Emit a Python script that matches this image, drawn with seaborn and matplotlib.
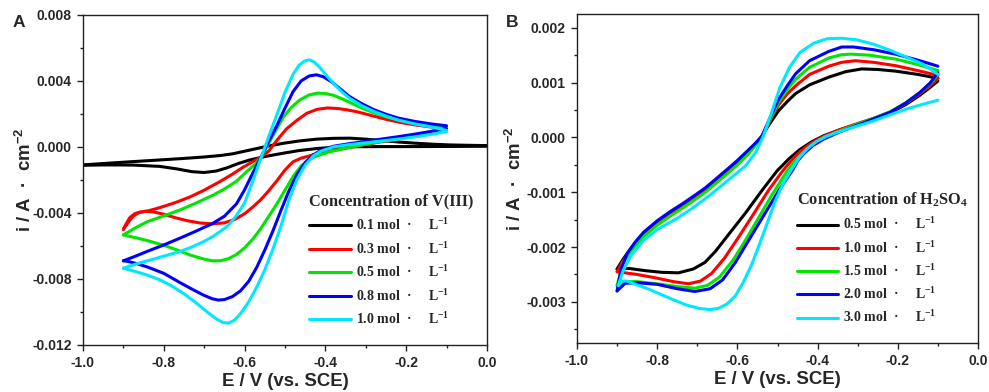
import matplotlib
matplotlib.use("Agg")
import numpy as np
import pandas as pd
import matplotlib.pyplot as plt
import seaborn as sns
from matplotlib.lines import Line2D
from matplotlib.ticker import MultipleLocator, FormatStrFormatter
from matplotlib.font_manager import FontProperties

# ---------------- Panel A: concentration of V(III) ----------------
a_labels = ["0.1 mol  ·     L$^{-1}$", "0.3 mol  ·     L$^{-1}$", "0.5 mol  ·     L$^{-1}$",
            "0.8 mol  ·     L$^{-1}$", "1.0 mol  ·     L$^{-1}$"]
colors = ["#000000", "#ff0000", "#00e600", "#0000ff", "#00e8ff"]

# 0.1 mol/L
a1_up_E = [-1.0, -0.94, -0.876, -0.81, -0.752, -0.70, -0.66, -0.63, -0.60, -0.57, -0.54, -0.504, -0.465,
           -0.422, -0.38, -0.339, -0.30, -0.257, -0.215, -0.174, -0.13, -0.092, -0.05, 0.0]
a1_up_i = [-0.00109, -0.00099, -0.00089, -0.00079, -0.0007, -0.00061, -0.00052, -0.00042, -0.00026, -0.0001,
           0.00006, 0.00022, 0.00036, 0.00047, 0.00052, 0.00053, 0.00047, 0.00038, 0.00029, 0.00022, 0.00016,
           0.00012, 0.0001, 0.00008]
a1_dn_E = [0.0, -0.09, -0.174, -0.26, -0.339, -0.385, -0.422, -0.465, -0.504, -0.545, -0.587, -0.615, -0.644,
           -0.67, -0.70, -0.73, -0.768, -0.81, -0.876, -0.94, -1.0]
a1_dn_i = [0.00004, 0.00003, 0.00002, 0.00002, 0.00001, -0.00003, -0.0001, -0.00022, -0.00038, -0.00056,
           -0.00079, -0.001, -0.00127, -0.00146, -0.00155, -0.0015, -0.00133, -0.00118, -0.0011, -0.00109, -0.00111]
# 0.3 mol/L
a2_up_E = [-0.9, -0.893, -0.884, -0.872, -0.859, -0.84, -0.82, -0.801, -0.77, -0.735, -0.70, -0.661, -0.63,
           -0.603, -0.58, -0.558, -0.54, -0.52, -0.496, -0.47, -0.446, -0.42, -0.395, -0.37, -0.345, -0.32,
           -0.29, -0.25, -0.21, -0.174, -0.14, -0.104]
a2_up_i = [-0.005, -0.00465, -0.00428, -0.00405, -0.00395, -0.00388, -0.00375, -0.00361, -0.00336, -0.00303,
           -0.00262, -0.0021, -0.00165, -0.00122, -0.0009, -0.0006, -0.00025, 0.0004, 0.0011, 0.00162, 0.00204,
           0.00228, 0.00236, 0.00233, 0.00224, 0.00212, 0.00193, 0.00167, 0.00146, 0.00132, 0.00121, 0.00113]
a2_dn_E = [-0.104, -0.14, -0.18, -0.22, -0.265, -0.31, -0.35, -0.39, -0.43, -0.46, -0.48, -0.50, -0.52, -0.54,
           -0.56, -0.58, -0.60, -0.625, -0.65, -0.68, -0.71, -0.74, -0.77, -0.80, -0.825, -0.845, -0.862, -0.876,
           -0.888, -0.9]
a2_dn_i = [0.0011, 0.0009, 0.00068, 0.00048, 0.0003, 0.0001, -0.00008, -0.00025, -0.00048, -0.00068, -0.0009,
           -0.0014, -0.00205, -0.00265, -0.0032, -0.00365, -0.00405, -0.0044, -0.0046, -0.00466, -0.00461,
           -0.00448, -0.0043, -0.00408, -0.00394, -0.0039, -0.00398, -0.0042, -0.00458, -0.005]
# 0.5 mol/L
a3_up_E = [-0.9, -0.87, -0.84, -0.80, -0.76, -0.72, -0.677, -0.65, -0.62, -0.595, -0.575, -0.558, -0.545,
           -0.525, -0.504, -0.485, -0.463, -0.44, -0.42, -0.40, -0.38, -0.36, -0.34, -0.31, -0.28, -0.25,
           -0.22, -0.18, -0.14, -0.104]
a3_up_i = [-0.00533, -0.0049, -0.00452, -0.00418, -0.00382, -0.0034, -0.00291, -0.00255, -0.00208, -0.0015,
           -0.00108, -0.0006, 0.0, 0.0009, 0.0018, 0.00238, 0.00285, 0.00315, 0.00326, 0.00324, 0.00313,
           0.00293, 0.0027, 0.00236, 0.00207, 0.00183, 0.00163, 0.00146, 0.00131, 0.00119]
a3_dn_E = [-0.104, -0.14, -0.18, -0.22, -0.265, -0.31, -0.35, -0.39, -0.43, -0.46, -0.48, -0.50, -0.52, -0.54,
           -0.56, -0.58, -0.60, -0.62, -0.64, -0.66, -0.68, -0.70, -0.735, -0.77, -0.80, -0.84, -0.87, -0.9]
a3_dn_i = [0.00115, 0.00093, 0.00073, 0.00053, 0.00032, 0.00012, -0.00008, -0.0003, -0.00062, -0.00115, -0.0018,
           -0.00262, -0.00345, -0.0042, -0.00495, -0.0056, -0.00612, -0.00652, -0.00677, -0.0069, -0.0069, -0.0068,
           -0.00655, -0.00622, -0.00596, -0.00568, -0.0055, -0.00533]
# 0.8 mol/L
a4_up_E = [-0.9, -0.87, -0.84, -0.80, -0.76, -0.72, -0.68, -0.65, -0.62, -0.60, -0.58, -0.56, -0.54, -0.52,
           -0.50, -0.48, -0.46, -0.44, -0.422, -0.405, -0.385, -0.36, -0.34, -0.31, -0.28, -0.25, -0.22,
           -0.18, -0.14, -0.10]
a4_up_i = [-0.0069, -0.00662, -0.00632, -0.00594, -0.00553, -0.0051, -0.00465, -0.0042, -0.00345, -0.0026,
           -0.0016, -0.00065, 0.00035, 0.0013, 0.00235, 0.00335, 0.004, 0.0043, 0.00437, 0.00425, 0.00395,
           0.00345, 0.00305, 0.00262, 0.00226, 0.00198, 0.00175, 0.00155, 0.0014, 0.00128]
a4_dn_E = [-0.10, -0.14, -0.18, -0.22, -0.26, -0.30, -0.34, -0.38, -0.41, -0.43, -0.45, -0.47, -0.49, -0.51,
           -0.53, -0.55, -0.57, -0.59, -0.61, -0.63, -0.65, -0.665, -0.68, -0.70, -0.73, -0.76, -0.80, -0.84,
           -0.87, -0.89, -0.9]
a4_dn_i = [0.00112, 0.00093, 0.00077, 0.00062, 0.00048, 0.00034, 0.0002, 0.00004, -0.0002, -0.00048, -0.00095,
           -0.00165, -0.00265, -0.00385, -0.0051, -0.00625, -0.0073, -0.00815, -0.00872, -0.00907, -0.00925,
           -0.00928, -0.0092, -0.009, -0.00862, -0.00822, -0.00766, -0.00728, -0.00705, -0.00693, -0.0069]
# 1.0 mol/L
a5_up_E = [-0.9, -0.885, -0.86, -0.83, -0.80, -0.76, -0.73, -0.70, -0.68, -0.66, -0.64, -0.62, -0.60, -0.58,
           -0.56, -0.54, -0.52, -0.50, -0.48, -0.465, -0.452, -0.44, -0.428, -0.415, -0.40, -0.38, -0.36,
           -0.34, -0.31, -0.28, -0.25, -0.22, -0.18, -0.14, -0.10]
a5_up_i = [-0.00735, -0.00722, -0.00703, -0.00683, -0.00662, -0.00634, -0.00606, -0.00572, -0.00545, -0.00512,
           -0.00475, -0.00415, -0.0034, -0.0021, -0.0007, 0.00065, 0.00195, 0.0033, 0.0044, 0.00495, 0.0052,
           0.00528, 0.00515, 0.00485, 0.0044, 0.00385, 0.00335, 0.00295, 0.0025, 0.00215, 0.00187, 0.00163,
           0.0014, 0.00122, 0.001]
a5_dn_E = [-0.10, -0.14, -0.18, -0.22, -0.26, -0.30, -0.34, -0.38, -0.41, -0.43, -0.45, -0.47, -0.49, -0.51,
           -0.53, -0.55, -0.57, -0.59, -0.61, -0.625, -0.64, -0.655, -0.67, -0.69, -0.72, -0.75, -0.78, -0.81,
           -0.84, -0.87, -0.89, -0.9]
a5_dn_i = [0.00093, 0.00075, 0.0006, 0.00047, 0.00036, 0.00025, 0.00014, 0.0, -0.00025, -0.00055, -0.0011,
           -0.00195, -0.0032, -0.0048, -0.0062, -0.00745, -0.0085, -0.0094, -0.0101, -0.0105, -0.01068, -0.01062,
           -0.01042, -0.01005, -0.00945, -0.0089, -0.00843, -0.00805, -0.00777, -0.00755, -0.00742, -0.00735]

# ---------------- Panel B: concentration of H2SO4 ----------------
b_labels = ["0.5 mol  ·     L$^{-1}$", "1.0 mol  ·     L$^{-1}$", "1.5 mol  ·     L$^{-1}$",
            "2.0 mol  ·     L$^{-1}$", "3.0 mol  ·     L$^{-1}$"]

b1_up_E = [-0.9, -0.885, -0.865, -0.834, -0.80, -0.767, -0.735, -0.709, -0.68, -0.659, -0.63, -0.60, -0.57,
           -0.54, -0.515, -0.497, -0.475, -0.455, -0.42, -0.372, -0.33, -0.29, -0.25, -0.206, -0.15, -0.10]
b1_up_i = [-0.0024, -0.00222, -0.00202, -0.00176, -0.00155, -0.00138, -0.00123, -0.0011, -0.00095, -0.00082,
           -0.00064, -0.00045, -0.00024, 0.00002, 0.0003, 0.00049, 0.00066, 0.0008, 0.00096, 0.0011, 0.0012,
           0.00125, 0.00124, 0.00121, 0.00115, 0.00108]
b1_dn_E = [-0.10, -0.12, -0.145, -0.18, -0.219, -0.26, -0.302, -0.345, -0.385, -0.415, -0.444, -0.47, -0.50,
           -0.539, -0.58, -0.623, -0.655, -0.681, -0.71, -0.747, -0.79, -0.83, -0.87, -0.9]
b1_dn_i = [0.00103, 0.00091, 0.00077, 0.0006, 0.00045, 0.00034, 0.00024, 0.00014, 0.00003, -0.00008, -0.00022,
           -0.00038, -0.0006, -0.00097, -0.00138, -0.00178, -0.00208, -0.00228, -0.0024, -0.00247, -0.00246,
           -0.00243, -0.00239, -0.0024]

b2_up_E = [-0.9, -0.885, -0.865, -0.834, -0.80, -0.767, -0.735, -0.709, -0.68, -0.659, -0.63, -0.60, -0.57,
           -0.54, -0.515, -0.497, -0.475, -0.455, -0.42, -0.372, -0.34, -0.306, -0.26, -0.206, -0.15, -0.10]
b2_up_i = [-0.00245, -0.00225, -0.00205, -0.00179, -0.00158, -0.00141, -0.00126, -0.00113, -0.00098, -0.00085,
           -0.00067, -0.00048, -0.00026, 0.0, 0.00035, 0.0006, 0.0008, 0.00094, 0.00115, 0.0013, 0.00137,
           0.0014, 0.00137, 0.00131, 0.00122, 0.00113]
b2_dn_E = [-0.10, -0.12, -0.145, -0.18, -0.219, -0.26, -0.302, -0.345, -0.385, -0.415, -0.444, -0.465, -0.486,
           -0.523, -0.56, -0.598, -0.632, -0.664, -0.692, -0.722, -0.76, -0.805, -0.85, -0.88, -0.9]
b2_dn_i = [0.00108, 0.00094, 0.0008, 0.00062, 0.00046, 0.00035, 0.00025, 0.00014, 0.00002, -0.0001, -0.00026,
           -0.00042, -0.0006, -0.00097, -0.0014, -0.00183, -0.0022, -0.00248, -0.00262, -0.00267, -0.00263,
           -0.00256, -0.0025, -0.00247, -0.00245]

b3_up_E = [-0.9, -0.885, -0.865, -0.834, -0.80, -0.767, -0.735, -0.709, -0.68, -0.659, -0.63, -0.60, -0.57,
           -0.54, -0.515, -0.497, -0.475, -0.455, -0.42, -0.372, -0.34, -0.316, -0.27, -0.206, -0.15, -0.10]
b3_up_i = [-0.0027, -0.00228, -0.00207, -0.00181, -0.0016, -0.00143, -0.00128, -0.00115, -0.001, -0.00087,
           -0.00069, -0.0005, -0.00028, 0.0, 0.00038, 0.00065, 0.00088, 0.00106, 0.00128, 0.00145, 0.00151,
           0.00152, 0.0015, 0.00143, 0.00133, 0.00122]
b3_dn_E = [-0.10, -0.12, -0.145, -0.18, -0.219, -0.26, -0.302, -0.345, -0.385, -0.413, -0.44, -0.458, -0.473,
           -0.514, -0.55, -0.581, -0.612, -0.645, -0.675, -0.706, -0.75, -0.80, -0.85, -0.88, -0.9]
b3_dn_i = [0.00115, 0.00098, 0.00082, 0.00063, 0.00047, 0.00035, 0.00024, 0.00012, 0.0, -0.00013, -0.0003,
           -0.00044, -0.00058, -0.00105, -0.0015, -0.00189, -0.00225, -0.00255, -0.0027, -0.00275, -0.00272,
           -0.00267, -0.00263, -0.00263, -0.0027]

b4_up_E = [-0.9, -0.89, -0.875, -0.855, -0.834, -0.80, -0.767, -0.735, -0.709, -0.68, -0.659, -0.63, -0.60,
           -0.57, -0.54, -0.515, -0.497, -0.475, -0.455, -0.42, -0.372, -0.34, -0.31, -0.26, -0.206, -0.15, -0.10]
b4_up_i = [-0.0028, -0.0024, -0.00212, -0.00191, -0.00173, -0.00152, -0.00135, -0.0012, -0.00107, -0.00092,
           -0.00079, -0.00061, -0.00042, -0.00021, 0.0, 0.00042, 0.0007, 0.00095, 0.00116, 0.0014, 0.00157,
           0.00165, 0.00165, 0.0016, 0.00152, 0.00141, 0.0013]
b4_dn_E = [-0.10, -0.12, -0.145, -0.18, -0.219, -0.26, -0.302, -0.345, -0.385, -0.412, -0.435, -0.45, -0.461,
           -0.497, -0.535, -0.573, -0.605, -0.637, -0.668, -0.706, -0.75, -0.80, -0.85, -0.88, -0.9]
b4_dn_i = [0.00118, 0.00099, 0.00082, 0.00063, 0.00046, 0.00034, 0.00022, 0.0001, -0.00003, -0.00015, -0.0003,
           -0.00043, -0.00058, -0.00097, -0.00143, -0.00189, -0.00228, -0.0026, -0.00276, -0.00281, -0.00276,
           -0.00268, -0.00265, -0.00266, -0.0028]

b5_up_E = [-0.897, -0.885, -0.865, -0.834, -0.80, -0.751, -0.71, -0.668, -0.643, -0.61, -0.58, -0.555, -0.535,
           -0.515, -0.494, -0.47, -0.444, -0.41, -0.377, -0.34, -0.302, -0.26, -0.219, -0.18, -0.136, -0.10]
b5_up_i = [-0.0027, -0.00243, -0.00215, -0.00188, -0.00168, -0.00148, -0.00128, -0.00105, -0.0009, -0.0007,
           -0.00052, -0.00028, 0.00003, 0.00045, 0.00091, 0.00128, 0.00155, 0.00172, 0.0018, 0.00181, 0.00178,
           0.0017, 0.00159, 0.00147, 0.00133, 0.00115]
b5_dn_E = [-0.10, -0.14, -0.178, -0.22, -0.261, -0.30, -0.344, -0.375, -0.402, -0.425, -0.445, -0.465, -0.485,
           -0.505, -0.525, -0.545, -0.565, -0.585, -0.605, -0.626, -0.648, -0.668, -0.695, -0.726, -0.76,
           -0.792, -0.82, -0.85, -0.875, -0.89, -0.897]
b5_dn_i = [0.00068, 0.0006, 0.00052, 0.00041, 0.0003, 0.00021, 0.00011, 0.00003, -0.00007, -0.0002, -0.00036,
           -0.00058, -0.00083, -0.00115, -0.00155, -0.00195, -0.00233, -0.00264, -0.00289, -0.00304, -0.00312,
           -0.00314, -0.00312, -0.00306, -0.00296, -0.00286, -0.00277, -0.00269, -0.00262, -0.00262, -0.0027]


def build(curves, labels):
    rows = []
    for lab, (uE, ui, dE, di) in zip(labels, curves):
        for br, EE, II in (("up", uE, ui), ("dn", dE, di)):
            for e, v in zip(EE, II):
                rows.append(dict(series=lab, branch=br, E=e, i=v))
    return pd.DataFrame(rows)


dfA = build([(a1_up_E, a1_up_i, a1_dn_E, a1_dn_i), (a2_up_E, a2_up_i, a2_dn_E, a2_dn_i),
             (a3_up_E, a3_up_i, a3_dn_E, a3_dn_i), (a4_up_E, a4_up_i, a4_dn_E, a4_dn_i),
             (a5_up_E, a5_up_i, a5_dn_E, a5_dn_i)], a_labels)
dfB = build([(b1_up_E, b1_up_i, b1_dn_E, b1_dn_i), (b2_up_E, b2_up_i, b2_dn_E, b2_dn_i),
             (b3_up_E, b3_up_i, b3_dn_E, b3_dn_i), (b4_up_E, b4_up_i, b4_dn_E, b4_dn_i),
             (b5_up_E, b5_up_i, b5_dn_E, b5_dn_i)], b_labels)

sns.set_theme(style="white")
plt.rcParams["font.family"] = ["Liberation Sans", "DejaVu Sans"]
plt.rcParams["mathtext.default"] = "regular"
plt.rcParams["axes.edgecolor"] = "#222222"
plt.rcParams["axes.linewidth"] = 1.0

fig = plt.figure(figsize=(9.89, 3.92), dpi=100)
axA = fig.add_axes([0.0839, 0.120, 0.4085, 0.842])
axB = fig.add_axes([0.5834, 0.125, 0.4055, 0.839])

legfont = FontProperties(family="Liberation Serif", weight="bold", size=10)
titlefont = FontProperties(family="Liberation Serif", weight="bold", size=11.8)


def style(ax, df, labels, ylim, ymaj, ymin, title, anchor, ypad, lspace):
    sns.lineplot(data=df, x="E", y="i", hue="series", units="branch", estimator=None,
                 sort=False, palette=colors, hue_order=labels, linewidth=2.2,
                 legend=False, ax=ax)
    ax.set_xlim(-1.0, 0.0)
    ax.set_ylim(*ylim)
    ax.xaxis.set_major_locator(MultipleLocator(0.2))
    ax.xaxis.set_minor_locator(MultipleLocator(0.1))
    ax.yaxis.set_major_locator(MultipleLocator(ymaj))
    ax.yaxis.set_minor_locator(MultipleLocator(ymin))
    ax.xaxis.set_major_formatter(FormatStrFormatter("%.1f"))
    ax.yaxis.set_major_formatter(FormatStrFormatter("%.3f"))
    ax.tick_params(which="both", direction="out", bottom=True, left=True, top=False, right=False,
                   color="#222222")
    ax.tick_params(which="major", length=4.5, width=1, labelsize=10)
    ax.tick_params(which="minor", length=2.5, width=1)
    for lab in ax.get_xticklabels() + ax.get_yticklabels():
        lab.set_fontweight("bold")
    ax.set_xlabel("E / V (vs. SCE)", fontsize=13.4, fontweight="bold", labelpad=2)
    ax.set_ylabel("i / A  ·  cm$^{-2}$", fontsize=13.4, fontweight="bold", labelpad=ypad)
    handles = [Line2D([], [], color=c, lw=2.2) for c in colors]
    ax.legend(handles, labels, title=title, loc="upper left", bbox_to_anchor=anchor,
              frameon=False, prop=legfont, title_fontproperties=titlefont,
              handlelength=3.0, handletextpad=0.35, labelspacing=lspace,
              borderpad=0, borderaxespad=0, alignment="left")


style(axA, dfA, a_labels, (-0.012, 0.008), 0.004, 0.002,
      "Concentration of V(III)", (0.56, 0.459), -2, 0.55)
style(axB, dfB, b_labels, (-0.00375, 0.00225), 0.001, 0.0005,
      "Concentration of H$_2$SO$_4$", (0.548, 0.463), 1, 0.53)

fig.text(0.013, 0.931, "A", fontsize=12.5, fontweight="bold")
fig.text(0.511, 0.931, "B", fontsize=12.5, fontweight="bold")

fig.savefig("out.png", dpi=100)
